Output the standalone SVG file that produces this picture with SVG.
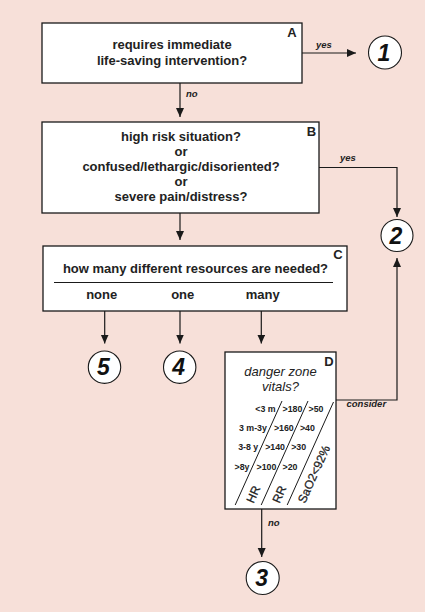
<svg xmlns="http://www.w3.org/2000/svg" width="425" height="612" viewBox="0 0 425 612">
<style>
.box{fill:#fff;stroke:#1a1a1a;stroke-width:1.3}
.circ{fill:#fff;stroke:#1a1a1a;stroke-width:1.1}
.t{font-family:"Liberation Sans",Arial,sans-serif;font-weight:bold;font-size:13px;fill:#222;text-anchor:middle}
.lt{font-family:"Liberation Sans",Arial,sans-serif;font-weight:bold;font-size:13px;fill:#222;text-anchor:middle}
.num{font-family:"Liberation Sans",Arial,sans-serif;font-weight:bold;font-style:italic;font-size:23px;fill:#111;text-anchor:middle}
.lab{font-family:"Liberation Sans",Arial,sans-serif;font-weight:bold;font-style:italic;font-size:9.5px;fill:#222}
.it{font-family:"Liberation Sans",Arial,sans-serif;font-style:italic;font-size:13px;fill:#222;text-anchor:middle}
.sm{font-family:"Liberation Sans",Arial,sans-serif;font-weight:bold;font-size:8.8px;fill:#222}
.rot{font-family:"Liberation Sans",Arial,sans-serif;font-size:12px;fill:#222;stroke:#222;stroke-width:0.25}
.conn{fill:none;stroke:#1a1a1a;stroke-width:1.2}
.dl{stroke:#1a1a1a;stroke-width:1}
</style>
<defs>
<marker id="ah" markerUnits="userSpaceOnUse" markerWidth="10" markerHeight="9" refX="9" refY="4" orient="auto">
<path d="M0,0 L9,4 L0,8 z" fill="#1a1a1a"/>
</marker>
</defs>
<rect width="425" height="612" fill="#F7E0D9"/>

<g id="connectors">
<path class="conn" d="M302,53 H356" marker-end="url(#ah)"/>
<path class="conn" d="M180,83 V117" marker-end="url(#ah)"/>
<path class="conn" d="M319,167.5 H397 V217" marker-end="url(#ah)"/>
<path class="conn" d="M180,213 V240" marker-end="url(#ah)"/>
<path class="conn" d="M104.7,311 V343.5" marker-end="url(#ah)"/>
<path class="conn" d="M180,311 V343.5" marker-end="url(#ah)"/>
<path class="conn" d="M261.3,311 V343.5" marker-end="url(#ah)"/>
<path class="conn" d="M336,400 H397 V258" marker-end="url(#ah)"/>
<path class="conn" d="M261.7,509 V557" marker-end="url(#ah)"/>
<text class="lab" x="316" y="48">yes</text>
<text class="lab" x="186" y="97">no</text>
<text class="lab" x="340" y="160.5">yes</text>
<text class="lab" x="346.5" y="406.5">consider</text>
<text class="lab" x="268" y="526">no</text>
</g>

<g id="nodeA">
<rect class="box" x="42" y="23" width="260" height="60"/>
<text class="lt" x="292" y="36.5">A</text>
<text class="t" x="172" y="48.5">requires immediate</text>
<text class="t" x="172" y="65">life-saving intervention?</text>
</g>

<g id="nodeB">
<rect class="box" x="42" y="122" width="277" height="91"/>
<text class="lt" x="311.5" y="136">B</text>
<text class="t" x="181" y="140.5">high risk situation?</text>
<text class="t" x="181" y="155.5">or</text>
<text class="t" x="181" y="170.5">confused/lethargic/disoriented?</text>
<text class="t" x="181" y="185.5">or</text>
<text class="t" x="181" y="200.5">severe pain/distress?</text>
</g>

<g id="nodeC">
<rect class="box" x="43" y="246" width="304" height="65"/>
<text class="lt" x="338" y="259">C</text>
<text class="t" x="195.5" y="272.5">how many different resources are needed?</text>
<line x1="54" y1="282.5" x2="333" y2="282.5" stroke="#1a1a1a" stroke-width="1.2"/>
<text class="t" x="101.7" y="298.5">none</text>
<text class="t" x="182.7" y="298.5">one</text>
<text class="t" x="262.7" y="298.5">many</text>
</g>

<g id="nodeD">
<rect class="box" x="225" y="352" width="111" height="157"/>
<text class="lt" x="329" y="365.5">D</text>
<text class="it" x="280.5" y="376">danger zone</text>
<text class="it" x="280.5" y="390.5">vitals?</text>
<line class="dl" x1="282" y1="401" x2="235.2" y2="505"/>
<line class="dl" x1="308" y1="401" x2="261.2" y2="505"/>
<line class="dl" x1="333.5" y1="402" x2="287.2" y2="505"/>
<text class="sm" x="275.6" y="411.5" text-anchor="end">&lt;3 m</text>
<text class="sm" x="282.6" y="411.5">&gt;180</text>
<text class="sm" x="308.6" y="411.5">&gt;50</text>
<text class="sm" x="266.9" y="430.8" text-anchor="end">3 m-3y</text>
<text class="sm" x="273.9" y="430.8">&gt;160</text>
<text class="sm" x="299.9" y="430.8">&gt;40</text>
<text class="sm" x="258.2" y="450.2" text-anchor="end">3-8 y</text>
<text class="sm" x="265.2" y="450.2">&gt;140</text>
<text class="sm" x="291.2" y="450.2">&gt;30</text>
<text class="sm" x="249.5" y="469.5" text-anchor="end">&gt;8y</text>
<text class="sm" x="256.5" y="469.5">&gt;100</text>
<text class="sm" x="282.5" y="469.5">&gt;20</text>
<text class="rot" transform="translate(253.5,504) rotate(-65.8)">HR</text>
<text class="rot" transform="translate(279.5,504) rotate(-65.8)">RR</text>
<text class="rot" transform="translate(305,504) rotate(-65.8)">SaO2&lt;92%</text>
</g>

<g id="node1">
<circle class="circ" cx="385" cy="52.5" r="16.5"/>
<text class="num" x="384" y="60.5">1</text>
</g>
<g id="node2">
<circle class="circ" cx="397" cy="235.5" r="16"/>
<text class="num" x="396" y="243.5">2</text>
</g>
<g id="node5">
<circle class="circ" cx="104.5" cy="367.2" r="16.2"/>
<text class="num" x="103.5" y="375.2">5</text>
</g>
<g id="node4">
<circle class="circ" cx="179.7" cy="367.2" r="16.2"/>
<text class="num" x="178.7" y="375.2">4</text>
</g>
<g id="node3">
<circle class="circ" cx="262.7" cy="578" r="16.5"/>
<text class="num" x="261.7" y="586">3</text>
</g>
</svg>
